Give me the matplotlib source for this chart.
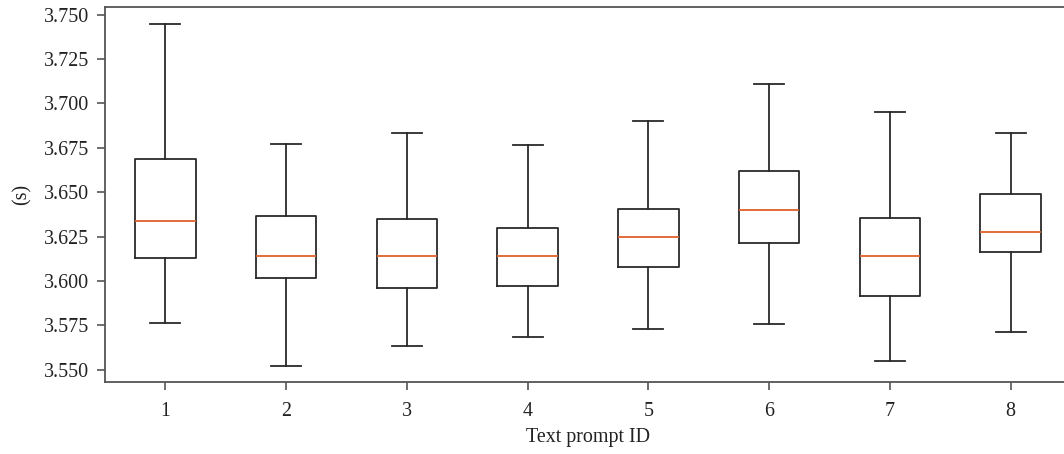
import numpy as np
import matplotlib.pyplot as plt

# values (seconds)
prompt_ids = ["1", "2", "3", "4", "5", "6", "7", "8"]
whis_low = [3.5765, 3.5523, 3.5636, 3.5685, 3.5731, 3.5758, 3.5548, 3.5713]
q1 = [3.6131, 3.6015, 3.5959, 3.5972, 3.6077, 3.6212, 3.5914, 3.6161]
median = [3.6340, 3.6142, 3.6142, 3.6142, 3.6248, 3.6401, 3.6141, 3.6274]
q3 = [3.6689, 3.6368, 3.6347, 3.6298, 3.6404, 3.6618, 3.6353, 3.6488]
whis_high = [3.7447, 3.6773, 3.6833, 3.6764, 3.6899, 3.7108, 3.6950, 3.6833]

if(__name__ == "__main__"):

    plt.rcParams['font.family'] = ['Liberation Serif', 'DejaVu Serif']

    stats = []
    for i in range(len(prompt_ids)):
        stats.append({"label": prompt_ids[i], "whislo": whis_low[i], "q1": q1[i],
                      "med": median[i], "q3": q3[i], "whishi": whis_high[i], "fliers": []})

    fig = plt.figure(figsize=(10.64, 4.54), dpi=100)
    W, H = 1064, 454
    ax = fig.add_axes([105 / W, 72 / H, 966 / W, 375.3 / H])

    line_col = "#2a2a2a"
    ax.bxp(stats, positions=np.arange(1, len(prompt_ids) + 1), widths=0.5,
           boxprops=dict(color=line_col, linewidth=1.3),
           whiskerprops=dict(color=line_col, linewidth=1.3),
           capprops=dict(color=line_col, linewidth=1.3),
           medianprops=dict(color="#e0602a", linewidth=1.3))

    ax.set_xlim(0.5, 8.5)
    ax.set_ylim(3.5431, 3.7544)
    ax.set_yticks(np.arange(3.550, 3.7501, 0.025))
    ax.set_yticklabels(["%.3f" % v for v in np.arange(3.550, 3.7501, 0.025)])

    for s in ax.spines.values():
        s.set_color("#555555")
        s.set_linewidth(1.3)
    ax.tick_params(direction="out", length=6, width=1.2, color="#555555",
                   labelsize=14.4, labelcolor="#222222")
    ax.tick_params(axis="x", pad=8.5)
    ax.tick_params(axis="y", pad=5.5)

    ax.set_xlabel("Text prompt ID", fontsize=14.4, color="#222222", labelpad=5)
    ax.set_ylabel("(s)", fontsize=14.4, color="#222222", labelpad=9)

    fig.savefig("out.png", dpi=100)
